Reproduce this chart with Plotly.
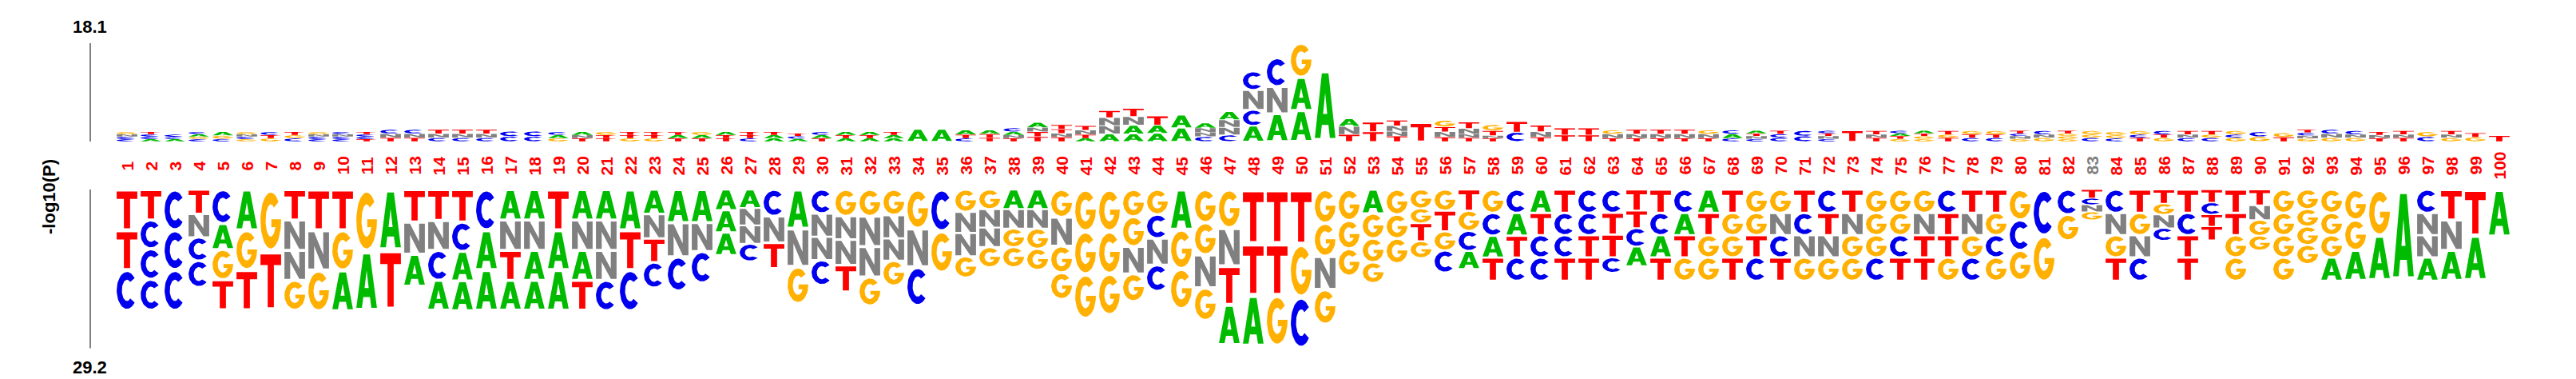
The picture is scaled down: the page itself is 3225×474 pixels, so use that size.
import math
import plotly.graph_objects as go

# ---- data: letters listed outward from each baseline, heights in -log10(P) ----
POSITIONS = list(range(1, 101))
TOP_MAX = 18.1
BOTTOM_MAX = 29.2
GRAY_LABELS = [83]

TOP_LETTERS = [
    "CCNG", "ACCT", "ACC", "CGAC", "CGA", "GCNG", "GTC", "CGT", "CCNG", "CCNC",
    "TCCT", "TNC", "TNC", "CNT", "CNT", "CNT", "CC", "CC", "GAC", "TNA",
    "TTG", "GTT", "GTT", "TAT", "TAG", "TTA", "CTT", "AAT", "ACT", "TAC",
    "ATA", "ATA", "AAT", "A", "A", "CTA", "TTA", "TNAC", "TTNA", "TNTT",
    "ATNT", "ANNT", "AANT", "AAT", "AA", "CNNA", "CNNA", "ACNC", "ANC", "AAG",
    "A", "TNA", "TT", "TNNT", "T", "TNTG", "TNNT", "TNTG", "CT", "TNT",
    "TT", "TT", "TNG", "TNT", "TNT", "TNT", "TNG", "CAC", "CNTA", "CCT",
    "CC", "CNTC", "T", "TNT", "GTAC", "GGTA", "TGT", "CTG", "CTG", "GNCT",
    "GNC", "GGGT", "CGG", "CGG", "TCG", "GTC", "CNT", "CGT", "GCG", "GC",
    "TG", "GNCT", "GNC", "GNC", "TNT", "TNT", "CG", "GNT", "GT", "T",
]
TOP_HEIGHTS = [
    [0.45, 0.45, 0.45, 0.45], [0.45, 0.45, 0.45, 0.45], [0.45, 0.4, 0.45], [0.45, 0.45, 0.45, 0.45], [0.5, 0.6, 0.7],
    [0.45, 0.45, 0.45, 0.45], [0.6, 0.6, 0.6], [0.6, 0.6, 0.6], [0.45, 0.45, 0.45, 0.45], [0.45, 0.45, 0.45, 0.45],
    [0.45, 0.45, 0.45, 0.45], [0.7, 0.75, 0.75], [0.7, 0.75, 0.75], [0.7, 0.75, 0.75], [0.7, 0.75, 0.75],
    [0.7, 0.75, 0.75], [0.95, 0.95], [0.95, 0.95], [0.6, 0.6, 0.6], [0.6, 0.6, 0.6],
    [0.6, 0.6, 0.6], [0.6, 0.6, 0.6], [0.6, 0.6, 0.6], [0.6, 0.6, 0.55], [0.6, 0.6, 0.6],
    [0.6, 0.6, 0.6], [0.6, 0.6, 0.6], [0.6, 0.6, 0.6], [0.5, 0.5, 0.5], [0.6, 0.6, 0.6],
    [0.6, 0.6, 0.6], [0.6, 0.6, 0.6], [0.6, 0.6, 0.6], [2.3], [2.3],
    [0.6, 0.7, 0.8], [0.7, 0.7, 0.7], [0.6, 0.6, 0.6, 0.7], [0.9, 0.9, 0.8, 0.9], [0.8, 0.7, 0.8, 0.8],
    [0.6, 0.7, 0.8, 0.8], [1.4, 1.5, 1.5, 1.3], [1.4, 1.6, 1.6, 1.5], [1.5, 1.5, 1.7], [2.5, 2.4],
    [0.9, 0.8, 0.8, 0.9], [1.2, 1.4, 1.4, 1.5], [2.9, 2.9, 3.7, 3.4], [5.1, 5.0, 5.3], [5.7, 6.1, 6.3],
    [13.2], [1.3, 1.5, 1.4], [1.8, 1.8], [1.0, 0.9, 1.0, 1.0], [3.4],
    [0.8, 1.0, 0.9, 1.2], [0.7, 0.7, 1.0, 1.2], [0.6, 0.5, 0.9, 1.1], [1.7, 2.0], [0.8, 1.0, 1.2],
    [1.2, 1.3], [1.2, 1.3], [0.6, 0.8, 0.7], [0.6, 0.8, 0.8], [0.6, 0.8, 0.8],
    [0.6, 0.8, 0.8], [0.6, 0.8, 0.7], [0.6, 0.8, 0.7], [0.5, 0.5, 0.5, 0.5], [0.7, 0.7, 0.6],
    [1.0, 1.0], [0.5, 0.5, 0.5, 0.5], [2.0], [0.7, 0.6, 0.7], [0.5, 0.5, 0.5, 0.5],
    [0.5, 0.5, 0.5, 0.5], [0.7, 0.6, 0.7], [0.7, 0.6, 0.7], [0.7, 0.6, 0.7], [0.5, 0.5, 0.5, 0.5],
    [0.7, 0.6, 0.7], [0.5, 0.5, 0.5, 0.5], [0.7, 0.6, 0.7], [0.6, 0.6, 0.6], [0.7, 0.6, 0.7],
    [0.7, 0.6, 0.7], [0.7, 0.6, 0.7], [0.7, 0.6, 0.7], [0.7, 0.6, 0.7], [0.9, 0.9],
    [0.8, 0.8], [0.55, 0.55, 0.55, 0.55], [0.7, 0.75, 0.75], [0.7, 0.6, 0.7], [0.6, 0.6, 0.6],
    [0.7, 0.6, 0.7], [0.9, 0.9], [0.7, 0.6, 0.7], [0.8, 0.8], [1.1],
]

BOTTOM_LETTERS = [
    "TTC", "TCCC", "CCC", "TNCC", "CAGT", "AGT", "GT", "TNNG", "TNG", "TGA",
    "GA", "AT", "TNA", "TNCA", "TCAA", "CAA", "ANTA", "ANAA", "TAA", "ANAT",
    "ANNC", "ATC", "ANTC", "ANC", "ANC", "AAA", "ANNC", "CNT", "ANG", "CNNC",
    "GNNT", "GNNG", "GNNG", "GNC", "CG", "GNNG", "GNNG", "ANGG", "ANGG", "GNGG",
    "GGG", "GGG", "GGNG", "GCNC", "AGG", "GGNG", "GNTA", "TTA", "TTG", "TGC",
    "GGNG", "GGG", "AGGG", "GGG", "GGTG", "GTGC", "TGCA", "GCAT", "CATC", "ATCC",
    "TCCT", "CCTT", "CTTC", "TTCA", "TCAT", "CATG", "ATGG", "TGGT", "GGTC", "GNCT",
    "TCNG", "CTNG", "TNGG", "GGGC", "GGCT", "GNTT", "CTTG", "TNGC", "TGCG", "GCG",
    "CG", "CG", "TCNG", "CNGT", "TGNC", "TGNC", "TCTT", "TCTT", "TTGG", "TNGG",
    "GGGG", "GGGG", "GGGA", "GGA", "GA", "A", "CNNA", "TNA", "TA", "A",
]
BOTTOM_HEIGHTS = [
    [7.5, 7.3, 7.5], [5.6, 5.3, 5.6, 5.7], [7.5, 7.3, 7.5], [4.5, 4.3, 4.3, 4.9], [6.3, 4.7, 5.6, 5.5],
    [7.5, 7.3, 7.4], [11.4, 10.8], [5.6, 5.6, 5.5, 5.5], [7.5, 7.4, 7.5], [7.5, 7.4, 7.5],
    [11.4, 10.9], [11.2, 10.9], [6.0, 5.9, 5.9], [5.7, 5.5, 5.5, 5.5], [6.0, 5.4, 5.4, 5.5],
    [7.5, 7.3, 7.5], [5.6, 5.6, 5.5, 5.5], [5.6, 5.6, 5.5, 5.5], [7.5, 7.3, 7.5], [5.6, 5.6, 5.5, 5.5],
    [5.6, 5.6, 5.5, 5.6], [7.5, 7.3, 7.6], [4.5, 4.5, 4.4, 4.7], [6.1, 6.3, 6.3], [6.1, 5.3, 5.8],
    [3.8, 4.1, 4.2], [3.4, 3.2, 3.4, 3.2], [4.9, 4.9, 4.7], [7.2, 7.0, 6.8], [4.4, 4.3, 4.3, 4.6],
    [4.9, 4.3, 4.7, 4.9], [4.9, 5.6, 5.6, 5.3], [4.7, 4.3, 4.1, 4.6], [7.2, 7.1, 7.1], [7.7, 7.6],
    [4.1, 3.9, 4.3, 3.9], [3.6, 3.4, 3.6, 3.7], [3.6, 3.6, 3.4, 3.7], [3.6, 3.6, 3.7, 3.9], [5.1, 5.3, 4.9, 4.9],
    [7.7, 7.9, 8.2], [7.7, 7.8, 7.6], [5.0, 5.5, 5.0, 5.1], [4.6, 4.4, 4.9, 4.8], [7.4, 7.2, 7.4],
    [6.1, 5.9, 6.1, 6.0], [7.1, 7.0, 7.1, 7.4], [10.0, 9.5, 9.3], [10.0, 9.5, 9.3], [10.1, 9.7, 9.4],
    [6.2, 6.1, 6.1, 6.4], [5.7, 5.2, 5.0], [4.4, 4.6, 4.4, 3.8], [4.6, 4.4, 4.6], [3.5, 2.7, 3.3, 3.1],
    [3.9, 3.8, 3.5, 4.1], [3.9, 3.7, 3.7, 3.3], [4.3, 4.2, 4.0, 4.3], [4.3, 4.2, 4.0, 4.3], [4.3, 4.1, 4.1, 4.3],
    [4.3, 4.1, 4.1, 4.3], [4.3, 4.1, 4.1, 4.3], [4.3, 4.0, 4.2, 2.8], [3.9, 3.2, 3.4, 3.6], [4.3, 4.1, 4.1, 4.3],
    [4.3, 4.1, 4.1, 4.3], [4.3, 4.1, 4.1, 4.3], [4.3, 4.1, 4.1, 4.3], [4.3, 4.1, 4.1, 4.3], [4.3, 4.1, 4.1, 4.3],
    [4.3, 4.1, 4.1, 4.3], [4.3, 4.1, 4.1, 4.3], [4.3, 4.1, 4.1, 4.3], [4.3, 4.1, 4.1, 4.3], [4.3, 4.1, 4.1, 4.3],
    [4.3, 4.1, 4.1, 4.3], [4.3, 4.1, 4.1, 4.3], [4.3, 4.1, 4.1, 4.3], [4.3, 4.1, 4.1, 4.3], [5.6, 5.6, 5.5],
    [8.5, 8.5], [4.6, 4.8], [1.6, 1.2, 1.3, 1.5], [4.3, 4.1, 4.1, 4.3], [4.3, 4.1, 4.1, 4.3],
    [2.6, 2.0, 2.5, 2.3], [4.3, 4.1, 4.1, 4.3], [2.4, 2.2, 2.2, 2.5], [4.3, 4.1, 4.1, 4.3], [2.9, 2.7, 2.9, 2.7],
    [4.3, 4.1, 4.1, 4.3], [3.6, 3.2, 3.4, 3.5], [4.3, 4.1, 4.1, 4.3], [5.6, 5.6, 5.5], [8.5, 8.2],
    [16.8], [4.3, 4.1, 4.1, 4.3], [5.6, 5.6, 5.5], [8.5, 8.2], [8.7],
]

COLORS = {"A": "#00bb00", "C": "#0000ee", "G": "#ffb000", "T": "#ff0000", "N": "#808080"}

# ---- page geometry (pixels) ----
W, H = 3225, 474
PX_PER_UNIT = 6.8
BASE_PX = 169        # top baseline
BOTTOM_BASE_PX = 229 # bottom baseline
X1_PX = 151          # centre of position 1
STEP_PX = 30
BOX_W = 0.86
GAP = (BOTTOM_BASE_PX - BASE_PX) / PX_PER_UNIT


def px_to_x(px):
    return 1 + (px - X1_PX) / STEP_PX


def px_to_y(py):
    return (BASE_PX - py) / PX_PER_UNIT


def arc(cx, cy, rx, ry, a0, a1, n):
    pts = []
    for i in range(n + 1):
        a = math.radians(a0 + (a1 - a0) * i / n)
        pts.append((cx + rx * math.cos(a), cy + ry * math.sin(a)))
    return pts


# letter outlines in a unit box
GLYPHS = {
    "T": [(0, 1), (1, 1), (1, 0.8), (0.65, 0.8), (0.65, 0), (0.35, 0), (0.35, 0.8), (0, 0.8)],
    "N": [(0, 0), (0, 1), (0.28, 1), (0.72, 0.38), (0.72, 1), (1, 1), (1, 0), (0.72, 0),
          (0.28, 0.62), (0.28, 0)],
    "A": [(0, 0), (0.34, 1), (0.66, 1), (1, 0), (0.73, 0), (0.66, 0.2), (0.5, 0.2), (0.5, 0.37),
          (0.6, 0.37), (0.5, 0.7), (0.4, 0.37), (0.5, 0.37), (0.5, 0.2), (0.34, 0.2), (0.27, 0)],
    "C": arc(0.5, 0.5, 0.5, 0.5, 42, 318, 40) + arc(0.5, 0.5, 0.25, 0.29, 310, 52, 36),
    "G": arc(0.5, 0.5, 0.5, 0.5, 42, 355, 44) + [(1.0, 0.52), (0.53, 0.52), (0.53, 0.38)]
         + arc(0.5, 0.5, 0.25, 0.29, 335.6, 52, 36),
}

xs = {k: [] for k in COLORS}
ys = {k: [] for k in COLORS}


def add_letter(letter, pos, y_lo, y_hi):
    pad = 0.05 * (y_hi - y_lo)
    lo, hi = y_lo + pad, y_hi - pad
    for gx, gy in GLYPHS[letter]:
        xs[letter].append(pos - BOX_W / 2 + gx * BOX_W)
        ys[letter].append(lo + gy * (hi - lo))
    xs[letter].append(None)
    ys[letter].append(None)


for pos, letters, heights in zip(POSITIONS, TOP_LETTERS, TOP_HEIGHTS):
    cur = 0.0
    for letter, h in zip(letters, heights):
        add_letter(letter, pos, cur, cur + h)
        cur += h

for pos, letters, heights in zip(POSITIONS, BOTTOM_LETTERS, BOTTOM_HEIGHTS):
    cur = -GAP
    for letter, h in zip(letters, heights):
        add_letter(letter, pos, cur - h, cur)
        cur -= h

fig = go.Figure()
for letter, color in COLORS.items():
    fig.add_trace(go.Scatter(x=xs[letter], y=ys[letter], mode="lines", fill="toself",
                             fillcolor=color, line=dict(width=0, color=color),
                             hoverinfo="skip", showlegend=False))

# scale bars
axis_x = px_to_x(105)
fig.add_trace(go.Scatter(x=[axis_x, axis_x], y=[0, TOP_MAX], mode="lines",
                         line=dict(color="#808080", width=2), hoverinfo="skip", showlegend=False))
fig.add_trace(go.Scatter(x=[axis_x, axis_x], y=[-GAP, -GAP - BOTTOM_MAX], mode="lines",
                         line=dict(color="#808080", width=2), hoverinfo="skip", showlegend=False))

font_family = "Liberation Sans, Arial, sans-serif"
annotations = [
    dict(x=px_to_x(104), y=px_to_y(25), text="<b>%.1f</b>" % TOP_MAX, showarrow=False,
         font=dict(family=font_family, size=22, color="black")),
    dict(x=px_to_x(104), y=px_to_y(451), text="<b>%.1f</b>" % BOTTOM_MAX, showarrow=False,
         font=dict(family=font_family, size=22, color="black")),
    dict(x=px_to_x(53), y=px_to_y(238), text="<b>-log10(P)</b>", showarrow=False, textangle=-90,
         font=dict(family=font_family, size=22, color="black")),
]
for pos in POSITIONS:
    annotations.append(dict(x=pos, y=px_to_y(199.5), text="<b>%d</b>" % pos, showarrow=False,
                            textangle=-90,
                            font=dict(family=font_family, size=21,
                                      color="#808080" if pos in GRAY_LABELS else "#ff0000")))

fig.update_layout(
    width=W, height=H,
    margin=dict(l=0, r=0, t=0, b=0),
    paper_bgcolor="white", plot_bgcolor="white",
    xaxis=dict(range=[px_to_x(0), px_to_x(W)], visible=False, fixedrange=True),
    yaxis=dict(range=[px_to_y(H), px_to_y(0)], visible=False, fixedrange=True),
    annotations=annotations,
    showlegend=False,
)

fig.write_html("out.html")
